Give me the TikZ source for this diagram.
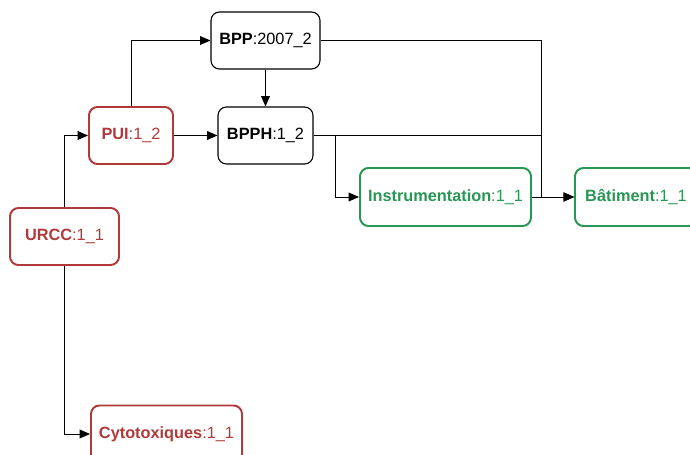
\documentclass[tikz,border=0pt]{standalone}
\usepackage{fontspec}
\setmainfont{Liberation Sans}
\usepackage{tikz}
\usetikzlibrary{positioning,calc,arrows.meta}
\definecolor{UnitRed}{RGB}{176,58,58}
\definecolor{UnitGreen}{RGB}{42,150,84}

\begin{document}
\begin{tikzpicture}[
    font=\fontsize{11.6}{13}\selectfont,
    >={Triangle[length=2.6mm,width=2.2mm]},
    blackbox/.style={
        draw,
        rounded corners=6pt,
        line width=0.8pt,
        align=center,
        minimum height=1.425cm,
        fill=white
    },
    redbox/.style={
        draw=UnitRed,
        text=UnitRed,
        rounded corners=6pt,
        line width=1.4pt,
        align=center,
        minimum height=1.425cm,
        fill=white
    },
    greenbox/.style={
        draw=UnitGreen,
        text=UnitGreen,
        rounded corners=6pt,
        line width=1.4pt,
        align=center,
        minimum height=1.45cm,
        fill=white
    },
    arrow/.style={
        ->,
        line width=0.7pt,
        draw=black
    }
]

\useasboundingbox (0,0) rectangle (17.25,-11.375);

% =========================
% nodes
% =========================
\node[redbox, minimum width=2.725cm] (urcc) at (1.6125,-5.9125) {\textbf{URCC}:1\_1};
\node[redbox, minimum width=2.1cm] (pui) at (3.275,-3.3875) {\textbf{PUI}:1\_2};
\node[redbox, minimum width=3.775cm] (cyto) at (4.1625,-10.85) {\textbf{Cytotoxiques}:1\_1};

\node[blackbox, minimum width=2.725cm] (bpp) at (6.6375,-1.0125) {\textbf{BPP}:2007\_2};
\node[blackbox, minimum width=2.375cm] (bpph) at (6.6375,-3.3875) {\textbf{BPPH}:1\_2};

\node[greenbox, minimum width=4.275cm] (instr) at (11.1375,-4.925) {\textbf{Instrumentation}:1\_1};
\node[greenbox, minimum width=3.05cm] (bat) at (15.9,-4.925) {\textbf{Bâtiment}:1\_1};

% =========================
% connectors
% =========================
\draw[arrow] (urcc.north) |- (pui.west);
\draw[arrow] (urcc.south) |- (cyto.west);

\draw[arrow] (pui.north) |- (bpp.west);
\draw[arrow] (pui.east) -- (bpph.west);
\draw[arrow] (bpp.south) -- (bpph.north);

\draw[arrow] (bpp.east) -| ([xshift=0.25cm]instr.east) -- (bat.west);
\draw[arrow] (bpph.east) -| ([xshift=0.25cm]instr.east) -- (bat.west);
\draw[arrow] (bpph.east) -| ([xshift=-0.6cm]instr.west) -- (instr.west);
\draw[arrow] (instr.east) -- (bat.west);

\end{tikzpicture}
\end{document}
